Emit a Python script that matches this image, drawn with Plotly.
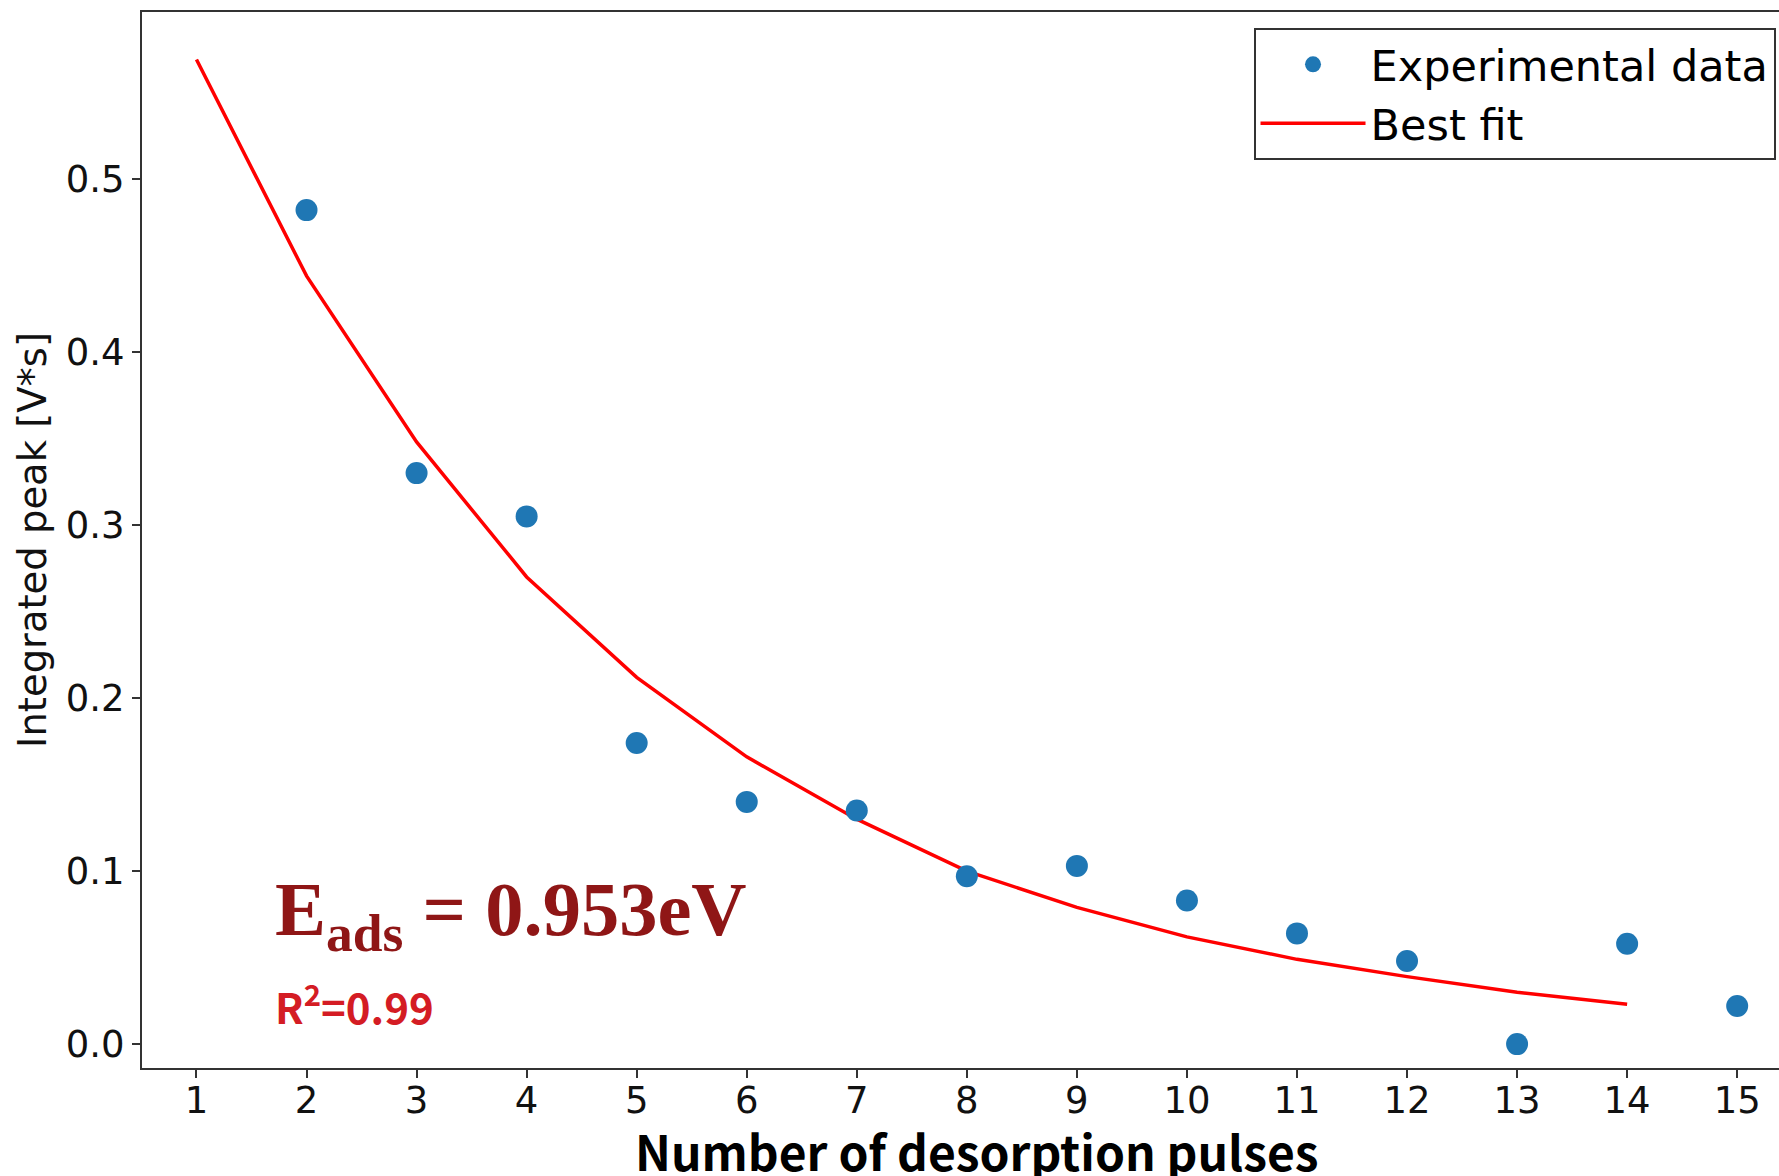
import plotly.graph_objects as go

# ---- data ----
pulses = [2, 3, 4, 5, 6, 7, 8, 9, 10, 11, 12, 13, 14, 15]
peak = [0.482, 0.330, 0.305, 0.174, 0.140, 0.135, 0.097, 0.103, 0.083, 0.064, 0.048, 0.000, 0.058, 0.022]

fit_pulses = [1, 2, 3, 4, 5, 6, 7, 8, 9, 10, 11, 12, 13, 14]
fit_peak = [0.569, 0.444, 0.348, 0.270, 0.212, 0.166, 0.130, 0.100, 0.079, 0.062, 0.049, 0.039, 0.030, 0.023]

x_ticks = list(range(1, 16))
y_ticks = [0.0, 0.1, 0.2, 0.3, 0.4, 0.5]

W, H = 1779, 1176
ML, MR, MT, MB = 142, 0, 12, 108

fig = go.Figure()
fig.add_trace(go.Scatter(
    x=fit_pulses, y=fit_peak, mode="lines", name="Best fit",
    line=dict(color="#ff0000", width=3.5), legendrank=2,
))
fig.add_trace(go.Scatter(
    x=pulses, y=peak, mode="markers", name="Experimental data",
    marker=dict(color="#1f77b4", size=22, line=dict(width=0)), legendrank=1,
))

axis_common = dict(
    showgrid=False, zeroline=False, showline=True, linecolor="#333333", linewidth=2,
    ticks="outside", ticklen=8, tickwidth=2, tickcolor="#333333",
    tickfont=dict(family="DejaVu Sans", size=37, color="#111111"),
)

fig.update_layout(
    width=W, height=H,
    margin=dict(l=ML, r=MR, t=MT, b=MB, autoexpand=False),
    paper_bgcolor="white", plot_bgcolor="white",
    showlegend=True,
    legend=dict(
        x=0.679, y=0.985, xanchor="left", yanchor="top",
        bgcolor="white", bordercolor="#333333", borderwidth=2,
        font=dict(family="DejaVu Sans", size=43, color="#000000"),
        itemwidth=105, tracegroupgap=0,
    ),
    xaxis=dict(
        range=[0.505, 15.38], tickvals=x_ticks, mirror=True,
        ticklabelstandoff=-9,
        automargin=False, **axis_common,
    ),
    yaxis=dict(
        range=[-0.0138, 0.5965], tickvals=y_ticks, tickformat=".1f",
        title=dict(text="Integrated peak [V*s]", standoff=7,
                   font=dict(family="DejaVu Sans", size=38.5, color="#111111")),
        automargin=False, **axis_common,
    ),
)

# x-axis title (placed as in the reference, slightly right of centre, near the bottom edge)
fig.add_annotation(
    xref="paper", yref="paper", x=0.510, y=-0.0425, xanchor="center", yanchor="top",
    text="Number of desorption pulses", showarrow=False,
    font=dict(family="Noto Sans CJK SC", size=48, color="#000000", weight="bold"),
)
fig.add_annotation(
    xref="paper", yref="paper", x=0.080, y=0.1447, xanchor="left", yanchor="middle",
    text="E<sub>ads</sub> = 0.953eV", showarrow=False,
    font=dict(family="Liberation Serif", size=76.5, color="#8f1616", weight="bold"),
)
fig.add_annotation(
    xref="paper", yref="paper", x=0.080, y=0.0606, xanchor="left", yanchor="middle",
    text="R<sup>2</sup>=0.99", showarrow=False,
    font=dict(family="Noto Sans CJK SC", size=42, color="#d41c24", weight="bold"),
)

fig.write_html("out.html")
